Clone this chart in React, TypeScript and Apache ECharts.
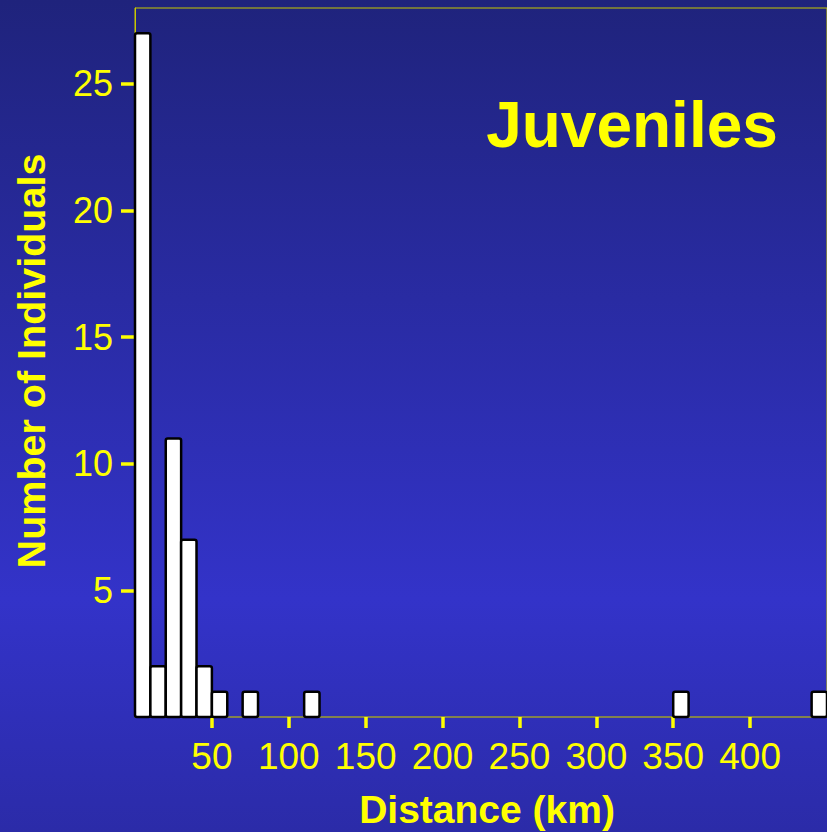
import React, { useEffect, useRef } from "react";
import * as echarts from "echarts";

// Histogram of dispersal distances, 10 km bins
const binWidth = 10;
const binStarts = [0, 10, 20, 30, 40, 50, 70, 110, 350, 440];
const counts = [27, 2, 11, 7, 2, 1, 1, 1, 1, 1];
const xTicks = [50, 100, 150, 200, 250, 300, 350, 400];
const yTicks = [5, 10, 15, 20, 25];

const YELLOW = "#ffff00";
const FONT = "Liberation Sans, Arial, sans-serif";

export default function App() {
  const ref = useRef<HTMLDivElement>(null);

  useEffect(() => {
    if (!ref.current) return;
    const chart = echarts.init(ref.current, undefined, { renderer: "svg" });
    const data = binStarts.map((s, i) => [s, s + binWidth, counts[i]]);

    chart.setOption({
      animation: false,
      backgroundColor: {
        type: "linear",
        x: 0,
        y: 0,
        x2: 0,
        y2: 1,
        colorStops: [
          { offset: 0, color: "#1f237c" },
          { offset: 0.72, color: "#3333c9" },
          { offset: 1, color: "#2b2ba8" },
        ],
      },
      grid: {
        left: 135,
        top: 8,
        right: -7,
        bottom: 115,
        show: true,
        borderColor: "#c8c800",
        borderWidth: 1,
        backgroundColor: "transparent",
      },
      xAxis: {
        type: "value",
        min: 0,
        max: 450,
        interval: 50,
        splitLine: { show: false },
        axisLine: { show: true, lineStyle: { color: "#85854a", width: 1.5 } },
        axisTick: {
          show: true,
          length: 11,
          lineStyle: { color: YELLOW, width: 3.5 },
          customValues: xTicks,
        },
        axisLabel: {
          color: YELLOW,
          fontFamily: FONT,
          fontSize: 37,
          margin: 21,
          customValues: xTicks,
        },
      },
      yAxis: {
        type: "value",
        min: 0,
        max: 28,
        interval: 5,
        splitLine: { show: false },
        axisLine: { show: true, lineStyle: { color: "#c8c800", width: 1 } },
        axisTick: {
          show: true,
          length: 14,
          lineStyle: { color: YELLOW, width: 3.5 },
          customValues: yTicks,
        },
        axisLabel: {
          color: YELLOW,
          fontFamily: FONT,
          fontSize: 36,
          margin: 22,
          customValues: yTicks,
        },
      },
      graphic: [
        {
          type: "text",
          x: 632,
          y: 125,
          style: {
            text: "Juveniles",
            fill: YELLOW,
            font: `bold 64px ${FONT}`,
            textAlign: "center",
            textVerticalAlign: "middle",
          },
        },
        {
          type: "text",
          x: 487,
          y: 809,
          style: {
            text: "Distance (km)",
            fill: YELLOW,
            font: `bold 39px ${FONT}`,
            textAlign: "center",
            textVerticalAlign: "middle",
          },
        },
        {
          type: "text",
          x: 31,
          y: 361,
          rotation: Math.PI / 2,
          style: {
            text: "Number of Individuals",
            fill: YELLOW,
            font: `bold 39.5px ${FONT}`,
            textAlign: "center",
            textVerticalAlign: "middle",
          },
        },
      ],
      series: [
        {
          type: "custom",
          data,
          encode: { x: [0, 1], y: 2 },
          clip: false,
          renderItem: (params: any, api: any) => {
            const start = api.value(0);
            const end = api.value(1);
            const count = api.value(2);
            const topLeft = api.coord([start, count]);
            const bottomRight = api.coord([end, 0]);
            return {
              type: "rect",
              shape: {
                x: topLeft[0],
                y: topLeft[1],
                width: bottomRight[0] - topLeft[0],
                height: bottomRight[1] - topLeft[1],
                r: 2,
              },
              style: { fill: "#ffffff", stroke: "#000000", lineWidth: 2.5 },
            };
          },
        },
      ],
    });

    return () => chart.dispose();
  }, []);

  return (
    <div
      ref={ref}
      style={{ position: "fixed", left: 0, top: 0, width: 827, height: 832 }}
    />
  );
}
